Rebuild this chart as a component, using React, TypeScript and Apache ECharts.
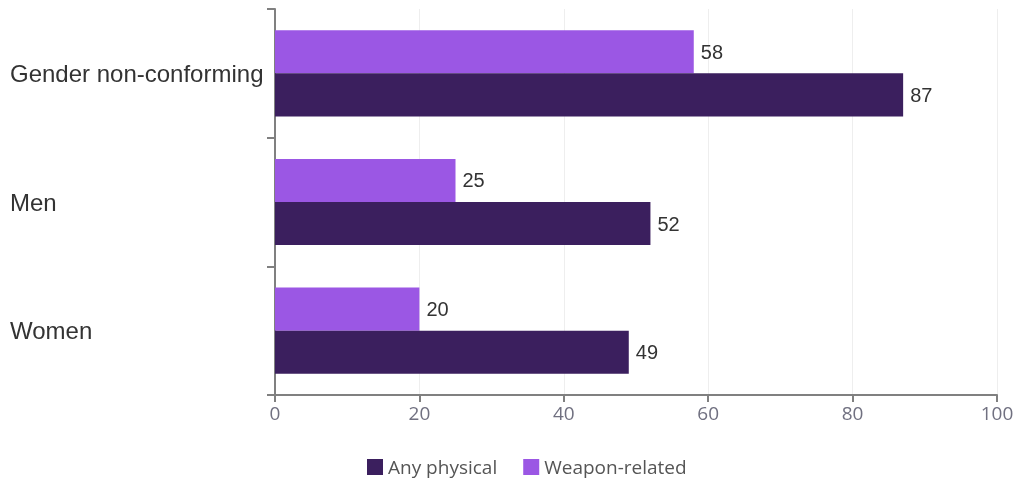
import React, { useEffect, useRef } from "react";
import * as echarts from "echarts";

const categories = ["Women", "Men", "Gender non-conforming"];
const anyPhysical = [49, 52, 87];
const weaponRelated = [20, 25, 58];
const xTicks = [0, 20, 40, 60, 80, 100];

export default function App() {
  const ref = useRef<HTMLDivElement>(null);
  useEffect(() => {
    const chart = echarts.init(ref.current!, null, { renderer: "svg" });
    const valueLabel = {
      show: true,
      position: "right",
      distance: 7,
      fontFamily: "Liberation Sans",
      fontSize: 20,
      color: "#333",
    };
    chart.setOption({
      animation: false,
      grid: { left: 275, right: 21, top: 9, bottom: 86, containLabel: false },
      legend: {
        top: 452,
        left: 362,
        padding: [5, 5, 5, 5],
        itemWidth: 16,
        itemHeight: 16,
        itemGap: 26,
        icon: "rect",
        textStyle: { fontFamily: "Open Sans", fontSize: 19, lineHeight: 20, color: "#555" },
        data: ["Any physical", "Weapon-related"],
      },
      xAxis: {
        type: "value",
        min: xTicks[0],
        max: xTicks[xTicks.length - 1],
        interval: 20,
        axisLine: { show: true, lineStyle: { color: "#808080", width: 2 } },
        axisTick: { show: true, length: 7, lineStyle: { color: "#808080", width: 2 } },
        axisLabel: { fontFamily: "Open Sans", fontSize: 19, color: "#707080", margin: 8 },
        splitLine: { show: true, lineStyle: { color: "#eeeeee" } },
      },
      yAxis: {
        type: "category",
        data: categories,
        axisLine: { show: true, lineStyle: { color: "#808080", width: 2 } },
        axisTick: { show: true, length: 8, lineStyle: { color: "#808080", width: 2 } },
        axisLabel: {
          fontFamily: "Liberation Sans",
          fontSize: 24,
          color: "#333",
          align: "left",
          margin: 265,
        },
      },
      series: [
        {
          name: "Weapon-related",
          type: "bar",
          data: weaponRelated,
          barGap: "0%",
          barCategoryGap: "33%",
          itemStyle: { color: "#9b57e4" },
          label: valueLabel,
        },
        {
          name: "Any physical",
          type: "bar",
          data: anyPhysical,
          barGap: "0%",
          barCategoryGap: "33%",
          itemStyle: { color: "#3b1f5e" },
          label: valueLabel,
        },
      ],
    });
    return () => chart.dispose();
  }, []);
  return <div ref={ref} style={{ position: "fixed", left: 0, top: 0, width: 1018, height: 481 }} />;
}
